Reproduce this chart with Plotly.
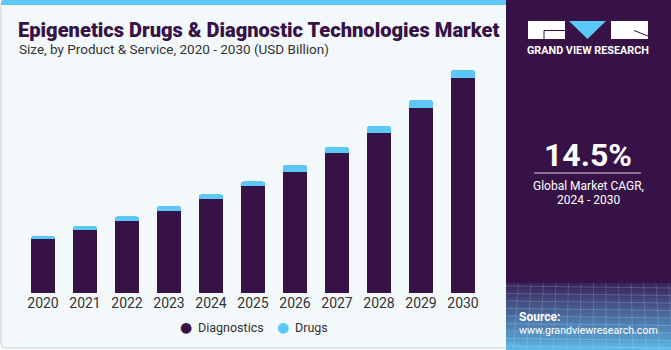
import plotly.graph_objects as go

W, H = 671, 350

years = ["2020", "2021", "2022", "2023", "2024", "2025", "2026", "2027", "2028", "2029", "2030"]
diagnostics = [9.6, 11.15, 12.8, 14.57, 16.6, 18.9, 21.5, 24.7, 28.4, 32.7, 38.1]
drugs = [0.48, 0.71, 0.78, 0.83, 0.88, 0.88, 1.13, 1.13, 1.24, 1.52, 1.42]
series_names = ["Diagnostics", "Drugs"]
label_year = "2023"
label_text = "$15.4B"

DIAG = "#371246"
DRUG = "#5BC8F5"
PANEL = "#371246"
BG = "#F3F8FB"
FONT = "Roboto"


def px(x):
    return x / W


def py(y):
    return 1 - y / H


fig = go.Figure()
fig.add_trace(go.Bar(x=years, y=diagnostics, name=series_names[0], marker_color=DIAG,
                     marker_line_width=0, showlegend=False))
fig.add_trace(go.Bar(x=years, y=drugs, name=series_names[1], marker_color=DRUG,
                     marker_line_width=0, showlegend=False))

shapes = []
# left panel background with border
shapes.append(dict(type="path", xref="paper", yref="paper",
                   path=f"M {px(1)},{py(5)} L {px(1)},{py(344)} Q {px(1)},{py(348)} {px(5)},{py(348)} "
                        f"L {px(508)},{py(348)} L {px(508)},{py(0)} L {px(5)},{py(0)} Q {px(1)},{py(0)} {px(1)},{py(4)} Z",
                   fillcolor=BG, line=dict(color="#C9CED3", width=1), layer="below"))
# top blue strip
shapes.append(dict(type="path", xref="paper", yref="paper",
                   path=f"M {px(1)},{py(5)} L {px(1)},{py(3)} Q {px(1)},{py(0)} {px(4)},{py(0)} "
                        f"L {px(508)},{py(0)} L {px(508)},{py(5)} Z",
                   fillcolor=DRUG, line=dict(width=0), layer="below"))
# right panel
shapes.append(dict(type="rect", xref="paper", yref="paper", x0=px(506), x1=px(671), y0=py(350), y1=py(0),
                   fillcolor=PANEL, line=dict(width=0), layer="below"))
# gradient at bottom of right panel
c0 = (0x3A, 0x24, 0x5A)
c1 = (0x5C, 0xB8, 0xE8)
y_start, y_end = 283, 350
n = 34
for i in range(n):
    t = i / (n - 1)
    col = tuple(int(c0[k] + (c1[k] - c0[k]) * t) for k in range(3))
    ya = y_start + (y_end - y_start) * i / n
    yb = y_start + (y_end - y_start) * (i + 1) / n
    shapes.append(dict(type="rect", xref="paper", yref="paper", x0=px(506), x1=px(671),
                       y0=py(yb + 0.5), y1=py(ya), fillcolor="rgb(%d,%d,%d)" % col,
                       line=dict(width=0), layer="below"))
# faint grid texture lines
for i in range(9):
    yy = 286 + i * 7.5
    shapes.append(dict(type="line", xref="paper", yref="paper", x0=px(506), x1=px(671), y0=py(yy), y1=py(yy + 2),
                       line=dict(color="rgba(255,255,255,0.18)", width=1), layer="below"))
for i in range(14):
    xx = 506 + i * 12.5
    shapes.append(dict(type="line", xref="paper", yref="paper", x0=px(xx), x1=px(xx - 6 + i * 0.8), y0=py(283), y1=py(350),
                       line=dict(color="rgba(255,255,255,0.15)", width=1), layer="below"))
# logo
shapes.append(dict(type="rect", xref="paper", yref="paper", x0=px(528), x1=px(565), y0=py(39), y1=py(21),
                   fillcolor="white", line=dict(width=0)))
shapes.append(dict(type="path", xref="paper", yref="paper",
                   path=f"M {px(569)},{py(21)} L {px(606)},{py(21)} L {px(587.5)},{py(39)} Z",
                   fillcolor=DRUG, line=dict(width=0)))
shapes.append(dict(type="rect", xref="paper", yref="paper", x0=px(611), x1=px(648), y0=py(39), y1=py(21),
                   fillcolor="white", line=dict(width=0)))
shapes.append(dict(type="path", xref="paper", yref="paper",
                   path=f"M {px(565)},{py(30.5)} L {px(544)},{py(30.5)} L {px(544)},{py(39)}",
                   line=dict(color=PANEL, width=1)))
shapes.append(dict(type="line", xref="paper", yref="paper", x0=px(634), x1=px(648), y0=py(30.5), y1=py(36),
                   line=dict(color=PANEL, width=1)))
# divider line under CAGR
shapes.append(dict(type="line", xref="paper", yref="paper", x0=px(534), x1=px(641), y0=py(173), y1=py(173),
                   line=dict(color="rgba(255,255,255,0.8)", width=1)))

annotations = [
    dict(text="Epigenetics Drugs &amp; Diagnostic Technologies Market", x=px(16), y=py(30),
         xref="paper", yref="paper", xanchor="left", yanchor="middle", showarrow=False,
         font=dict(family=FONT, size=20.1, color=DIAG, weight=900)),
    dict(text="Size, by Product &amp; Service, 2020 - 2030 (USD Billion)", x=px(17), y=py(49),
         xref="paper", yref="paper", xanchor="left", yanchor="middle", showarrow=False,
         font=dict(family=FONT, size=13.5, color="#333333")),
    dict(text="<b>GRAND VIEW RESEARCH</b>", x=px(588), y=py(51), xref="paper", yref="paper",
         xanchor="center", yanchor="middle", showarrow=False,
         font=dict(family=FONT, size=10.8, color="white")),
    dict(text="<b>14.5%</b>", x=px(588), y=py(155), xref="paper", yref="paper",
         xanchor="center", yanchor="middle", showarrow=False,
         font=dict(family=FONT, size=32, color="white")),
    dict(text="Global Market CAGR,", x=px(588), y=py(186), xref="paper", yref="paper",
         xanchor="center", yanchor="middle", showarrow=False,
         font=dict(family=FONT, size=12, color="white")),
    dict(text="2024 - 2030", x=px(588), y=py(200), xref="paper", yref="paper",
         xanchor="center", yanchor="middle", showarrow=False,
         font=dict(family=FONT, size=12, color="white")),
    dict(text="<b>Source:</b>", x=px(517), y=py(317), xref="paper", yref="paper",
         xanchor="left", yanchor="middle", showarrow=False,
         font=dict(family=FONT, size=12, color="white")),
    dict(text="www.grandviewresearch.com", x=px(517), y=py(330), xref="paper", yref="paper",
         xanchor="left", yanchor="middle", showarrow=False,
         font=dict(family=FONT, size=10.6, color="white")),
]
li = years.index(label_year)
annotations.append(dict(text=label_text, x=label_year, y=diagnostics[li] + drugs[li], xref="x", yref="y",
                        xanchor="center", yanchor="middle", yshift=15, showarrow=False,
                        font=dict(family=FONT, size=13.5, color="#333333")))

# legend (circle markers + labels)
legend_items = [(series_names[0], DIAG, 186), (series_names[1], DRUG, 283)]
for name, col, lx in legend_items:
    annotations.append(dict(text="●", x=px(lx), y=py(327), xref="paper", yref="paper",
                            xanchor="center", yanchor="middle", showarrow=False,
                            font=dict(family="DejaVu Sans", size=14, color=col)))
    annotations.append(dict(text=name, x=px(lx + 10), y=py(327), xref="paper", yref="paper",
                            xanchor="left", yanchor="middle", showarrow=False,
                            font=dict(family=FONT, size=12.5, color="#333333")))

fig.update_layout(
    width=W, height=H,
    margin=dict(l=0, r=0, t=0, b=0),
    paper_bgcolor="white",
    plot_bgcolor="rgba(0,0,0,0)",
    barmode="stack",
    bargap=0.43,
    barcornerradius=3,
    showlegend=False,
    font=dict(family=FONT, size=13, color="#333333"),
    xaxis=dict(domain=[px(22), px(484)], type="category", categoryorder="array", categoryarray=years,
               range=[-0.5, len(years) - 0.5], showgrid=False, showline=False,
               zeroline=False, ticks="", tickfont=dict(size=14, color="#333333"), fixedrange=True),
    yaxis=dict(domain=[py(293), py(60)], range=[0, 41.24], visible=False, fixedrange=True),
    shapes=shapes,
    annotations=annotations,
)

fig.write_html("out.html")
